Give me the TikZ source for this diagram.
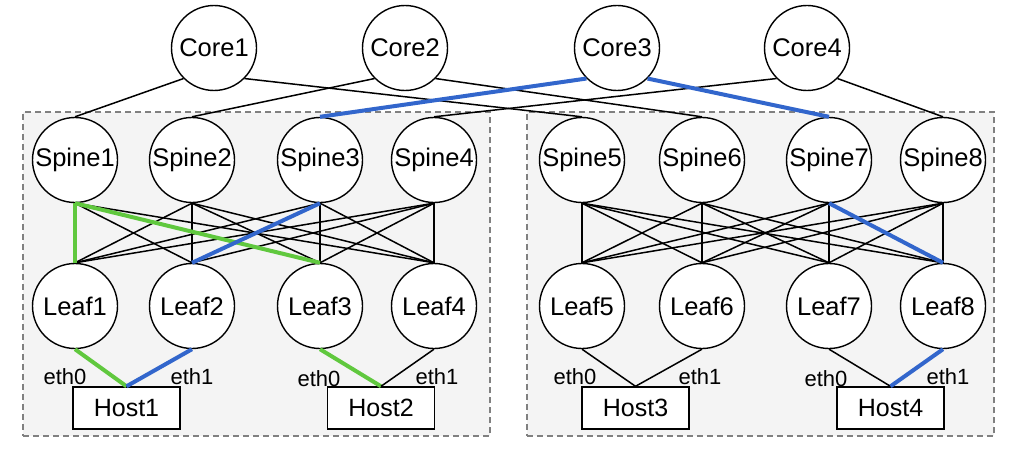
\documentclass[tikz,border=0pt]{standalone}
\usepackage{fontspec}
\setmainfont{Liberation Sans}
\definecolor{linkblue}{RGB}{50,102,204}
\definecolor{linkgreen}{RGB}{96,200,62}
\definecolor{podfill}{RGB}{244,244,244}
\definecolor{podline}{RGB}{128,128,128}
\begin{document}
\begin{tikzpicture}[x=1pt,y=-1pt,
  sw/.style={circle, draw, line width=1.4pt, fill=white, minimum size=85pt, inner sep=0pt, font=\fontsize{25.5}{25.5}\selectfont},
  hostbox/.style={rectangle, draw, line width=1.4pt, fill=white, minimum width=107pt, minimum height=42pt, inner sep=0pt, font=\fontsize{25}{25}\selectfont},
  podbox/.style={rectangle, draw=podline, fill=podfill, line width=1.3pt, dash pattern=on 6pt off 4pt, minimum width=467pt, minimum height=324pt, inner sep=0pt},
  ethlabel/.style={inner sep=0pt, font=\fontsize{22}{22}\selectfont},
  link/.style={line width=1.5pt, black},
  bluelink/.style={line width=4pt, linkblue},
  greenlink/.style={line width=4pt, linkgreen}]
\useasboundingbox (0,0) rectangle (1024,452);
% pods
\node[podbox] (pod1) at (256.5,274) {};
\node[podbox] (pod2) at (760.5,274) {};
% cores
\node[sw] (c1) at (214,48) {Core1};
\node[sw] (c2) at (405,48) {Core2};
\node[sw] (c3) at (617,48) {Core3};
\node[sw] (c4) at (807,48) {Core4};
% spines and leaves
\foreach \i/\x in {1/75,2/192,3/320,4/434,5/582,6/702,7/829,8/943}{
  \node[sw] (s\i) at (\x,160) {Spine\i};
  \node[sw] (l\i) at (\x,306) {Leaf\i};
}
% hosts
\node[hostbox] (h1) at (126.5,408) {Host1};
\node[hostbox] (h2) at (381,408) {Host2};
\node[hostbox] (h3) at (635.5,408) {Host3};
\node[hostbox] (h4) at (890.5,408) {Host4};
% eth labels
\node[ethlabel] (h1e0) at (65,377) {eth0};
\node[ethlabel] (h1e1) at (192,377) {eth1};
\node[ethlabel] (h2e0) at (319,379) {eth0};
\node[ethlabel] (h2e1) at (437,377) {eth1};
\node[ethlabel] (h3e0) at (575,377) {eth0};
\node[ethlabel] (h3e1) at (700,377) {eth1};
\node[ethlabel] (h4e0) at (826,379) {eth0};
\node[ethlabel] (h4e1) at (948,377) {eth1};
% spine-leaf black links
\foreach \s/\l in {1/2,1/4,2/1,2/2,2/3,2/4,3/1,3/3,3/4,4/1,4/2,4/3,4/4,
                   5/5,5/6,5/7,5/8,6/5,6/6,6/7,6/8,7/5,7/6,7/7,8/5,8/6,8/7,8/8}{
  \draw[link] (s\s.south) -- (l\l.north);
}
% core-spine links
\draw[link] (c1.south west) -- (s1.north);
\draw[link] (c1.south east) -- (s5.north);
\draw[link] (c2.south west) -- (s2.north);
\draw[link] (c2.south east) -- (s6.north);
\draw[link] (c4.south west) -- (s4.north);
\draw[link] (c4.south east) -- (s8.north);
\draw[bluelink] (c3.south west) -- (s3.north);
\draw[bluelink] (c3.south east) -- (s7.north);
% coloured spine-leaf links
\draw[greenlink] (s1.south) -- (l1.north);
\draw[greenlink] (s1.south) -- (l3.north);
\draw[bluelink] (s3.south) -- (l2.north);
\draw[bluelink] (s7.south) -- (l8.north);
% leaf-host links
\draw[greenlink] (l1.south) -- (h1.north);
\draw[bluelink] (l2.south) -- (h1.north);
\draw[greenlink] (l3.south) -- (h2.north);
\draw[link] (l4.south) -- (h2.north);
\draw[link] (l5.south) -- (h3.north);
\draw[link] (l6.south) -- (h3.north);
\draw[link] (l7.south) -- (h4.north);
\draw[bluelink] (l8.south) -- (h4.north);
\end{tikzpicture}
\end{document}
